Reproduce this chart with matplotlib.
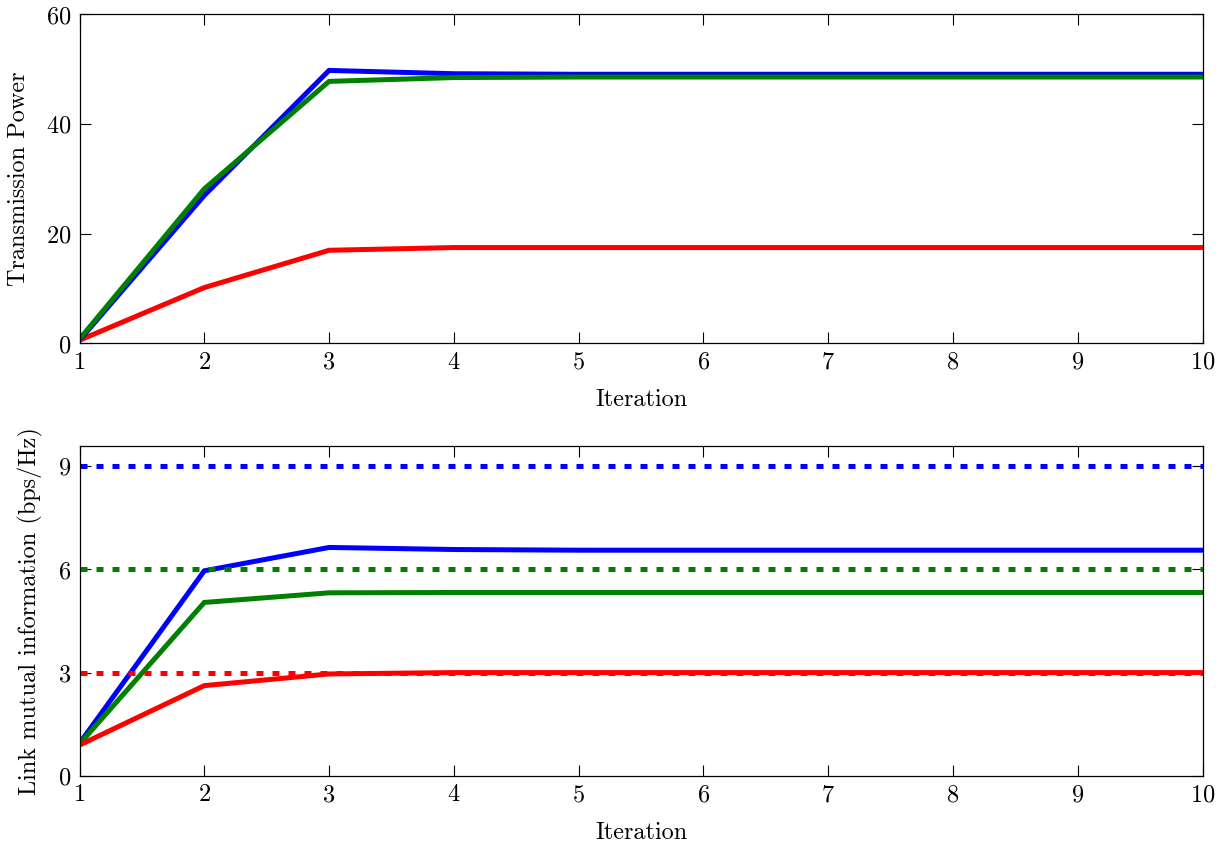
import matplotlib
matplotlib.use("Agg")
import matplotlib.pyplot as plt

plt.rcParams['font.family'] = ['cmr10', 'DejaVu Serif']
plt.rcParams['axes.formatter.use_mathtext'] = True
plt.rcParams['mathtext.fontset'] = 'cm'

iterations = [1, 2, 3, 4, 5, 6, 7, 8, 9, 10]

power_blue = [0.6, 27.0, 49.8, 49.2, 49.1, 49.1, 49.1, 49.1, 49.1, 49.1]
power_green = [0.8, 28.2, 47.8, 48.5, 48.6, 48.6, 48.6, 48.6, 48.6, 48.6]
power_red = [0.6, 10.2, 17.0, 17.5, 17.5, 17.5, 17.5, 17.5, 17.5, 17.5]

info_blue = [0.94, 5.96, 6.64, 6.58, 6.56, 6.56, 6.56, 6.56, 6.56, 6.56]
info_green = [0.92, 5.04, 5.32, 5.33, 5.33, 5.33, 5.33, 5.33, 5.33, 5.33]
info_red = [0.89, 2.62, 2.96, 3.0, 3.0, 3.0, 3.0, 3.0, 3.0, 3.0]

targets = [9, 6, 3]
target_colors = ['blue', 'green', 'red']

power_ticks = [0, 20, 40, 60]
info_ticks = [0, 3, 6, 9]

fig = plt.figure(figsize=(12.25, 8.46), dpi=100)
W, H = 1225, 846

def axes_px(left, top, right, bottom):
    return fig.add_axes([left / W, 1 - bottom / H, (right - left) / W, (bottom - top) / H])

ax1 = axes_px(79.5, 14.5, 1202.5, 343.5)
ax2 = axes_px(79.5, 445.7, 1202.5, 775.7)

lw = 3.6
fs = 17.5

for ax in (ax1, ax2):
    ax.tick_params(direction='in', top=True, right=True, length=8, width=0.8,
                   labelsize=fs, pad=6)
    ax.set_xlim(1, 10)
    ax.set_xticks(iterations)
    ax.set_xlabel('Iteration', fontsize=fs, labelpad=11)
    for s in ax.spines.values():
        s.set_linewidth(0.9)

ax1.plot(iterations, power_red, color='red', lw=lw, solid_joinstyle='miter')
ax1.plot(iterations, power_blue, color='blue', lw=lw, solid_joinstyle='miter')
ax1.plot(iterations, power_green, color='green', lw=lw, solid_joinstyle='miter')
ax1.set_ylim(0, 60)
ax1.set_yticks(power_ticks)
ax1.set_ylabel('Transmission Power', fontsize=fs, labelpad=11)

ax2.plot(iterations, info_blue, color='blue', lw=lw, solid_joinstyle='miter')
ax2.plot(iterations, info_green, color='green', lw=lw, solid_joinstyle='miter')
ax2.plot(iterations, info_red, color='red', lw=lw, solid_joinstyle='miter')
for t, c in zip(targets, target_colors):
    ax2.plot([iterations[0], iterations[-1]], [t, t], color=c, lw=lw,
             linestyle=(0, (1.4, 1.8)), dash_capstyle='butt')
ax2.set_ylim(0, 9.6)
ax2.set_yticks(info_ticks)
ax2.set_ylabel('Link mutual information (bps/Hz)', fontsize=fs, labelpad=11)

fig.savefig('out.png', dpi=100)
